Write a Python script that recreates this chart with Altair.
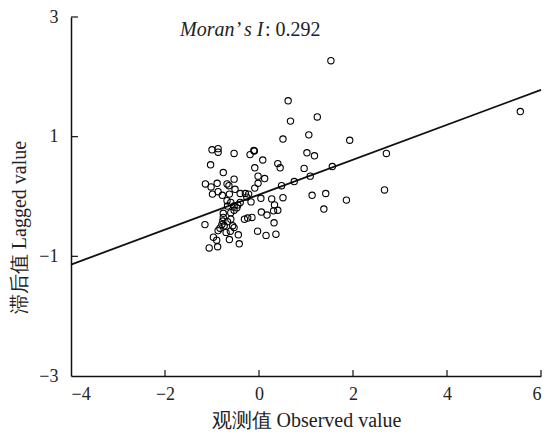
import altair as alt
import pandas as pd

obs_x = [1.53, 5.56, 0.62, 0.67, 1.24, 0.51, 1.06, 1.93, 1.02, 1.18, 2.71, 1.56, 0.96, 1.09, 0.75, 0.48,
         2.67, 1.42, 1.13, 0.51, 1.86, 0.04, 0.27, 0.08, -0.10, 0.40, 0.45, -0.09, 0.12, -0.02, -0.02, -0.09,
         -1.00, -0.87, -0.87, -0.53, -0.19, -0.11,
         -1.03, -0.76, -0.53, -1.14, -1.02, -0.89, -0.68, -0.64, -0.51, -0.99, -0.87, -0.78, -0.63, -0.40,
         -0.29, -0.22, -0.26, -0.17, 0.33, 0.40, 1.38,
         -0.68, -0.60, -0.67, -0.53, -0.45, -0.40, -1.15,
         -0.76, -0.76, -0.77, -0.79, -0.83, -0.87, -0.74, -0.67,
         -0.60, -0.56, -0.53, -0.61, -0.70, -0.60, -0.53, -0.47,
         -0.31, -0.24, -0.15, 0.05, 0.17, 0.31,
         0.32, 0.36, 0.15, -0.03,
         -0.97, -0.90, -1.06, -0.88, -0.63, -0.44, -0.42]
lag_y = [2.27, 1.42, 1.60, 1.26, 1.33, 0.96, 1.03, 0.94, 0.73, 0.68, 0.72, 0.50, 0.47, 0.34, 0.25, 0.18,
         0.11, 0.05, 0.02, -0.02, -0.06, -0.03, -0.04, 0.61, 0.76, 0.55, 0.48, 0.48, 0.30, 0.34, 0.22, 0.14,
         0.78, 0.80, 0.74, 0.72, 0.70, 0.77,
         0.53, 0.40, 0.29, 0.21, 0.16, 0.22, 0.21, 0.18, 0.12, 0.04, 0.08, 0.02, 0.04, 0.05,
         0.05, 0.04, -0.01, -0.09, -0.14, -0.23, -0.21,
         -0.07, -0.10, -0.16, -0.16, -0.14, -0.10, -0.47,
         -0.28, -0.35, -0.41, -0.47, -0.53, -0.57, -0.49, -0.42,
         -0.38, -0.49, -0.52, -0.58, -0.60, -0.27, -0.23, -0.19,
         -0.38, -0.36, -0.35, -0.26, -0.31, -0.24,
         -0.44, -0.63, -0.65, -0.58,
         -0.68, -0.73, -0.86, -0.84, -0.72, -0.64, -0.79]

line_x = [-4, 6]
line_y = [-1.138, 1.782]

x_ticks = [-4, -2, 0, 2, 4, 6]
y_ticks = [-3, -1, 1, 3]

label_italic = "Moran\u2019 s I"
label_value = ": 0.292"
label_x = -1.68
label_y = 2.68

FONT = "'Liberation Serif', 'Times New Roman', serif"

pts = pd.DataFrame({"x": obs_x, "y": lag_y})
line_df = pd.DataFrame({"x": line_x, "y": line_y})
xt = pd.DataFrame({"v": x_ticks[1:]})
yt = pd.DataFrame({"v": y_ticks[1:]})
txt = pd.DataFrame({"x": [label_x], "y": [label_y], "a": [label_italic], "b": [label_value]})

W, H = 470, 359

xs = alt.Scale(domain=[-4, 6], nice=False, zero=False)
ys = alt.Scale(domain=[-3, 3], nice=False, zero=False)

x_axis = alt.Axis(values=x_ticks, format="d", tickSize=0, labelPadding=9, labelFontSize=18,
                  labelFont=FONT, labelColor="#222", title="观测值 Observed value",
                  titleFont=FONT, titleFontSize=20, titleFontWeight="normal", titleColor="#222",
                  titleY=44, titleBaseline="middle", grid=False, domainColor="#111", domainWidth=1.5)
y_axis = alt.Axis(values=y_ticks, format="d", tickSize=0, labelPadding=13, labelFontSize=18,
                  labelFont=FONT, labelColor="#222", title="滞后值 Lagged value",
                  titleFont=FONT, titleFontSize=20, titleFontWeight="normal", titleColor="#222",
                  titleX=-52, titleY=210, titleBaseline="middle", titleAlign="center",
                  grid=False, domainColor="#111", domainWidth=1.5)

points = alt.Chart(pts).mark_point(shape="circle", filled=False, color="#000", size=40,
                                   strokeWidth=1.1, opacity=1).encode(
    x=alt.X("x:Q", scale=xs, axis=x_axis),
    y=alt.Y("y:Q", scale=ys, axis=y_axis),
)

reg = alt.Chart(line_df).mark_line(color="#111", strokeWidth=1.8).encode(
    x=alt.X("x:Q", scale=xs), y=alt.Y("y:Q", scale=ys))

xtick = alt.Chart(xt).mark_rule(color="#111", strokeWidth=1.2).encode(
    x=alt.X("v:Q", scale=xs), y=alt.value(H), y2=alt.value(H - 6))
ytick = alt.Chart(yt).mark_rule(color="#111", strokeWidth=1.2).encode(
    y=alt.Y("v:Q", scale=ys), x=alt.value(0), x2=alt.value(7))

t1 = alt.Chart(txt).mark_text(align="left", baseline="alphabetic", font=FONT, fontSize=20,
                              fontStyle="italic", color="#222").encode(
    x=alt.X("x:Q", scale=xs), y=alt.Y("y:Q", scale=ys), text="a:N")
t2 = alt.Chart(txt).mark_text(align="left", baseline="alphabetic", font=FONT, fontSize=20,
                              dx=85, color="#222").encode(
    x=alt.X("x:Q", scale=xs), y=alt.Y("y:Q", scale=ys), text="b:N")

chart = alt.layer(reg, points, xtick, ytick, t1, t2).properties(
    width=W, height=H,
    autosize=alt.AutoSizeParams(type="none"),
    padding={"left": 63, "top": 9, "right": 1, "bottom": 55},
).configure_view(stroke=None)

chart.save("out.html", embed_options={"renderer": "svg", "actions": False})
